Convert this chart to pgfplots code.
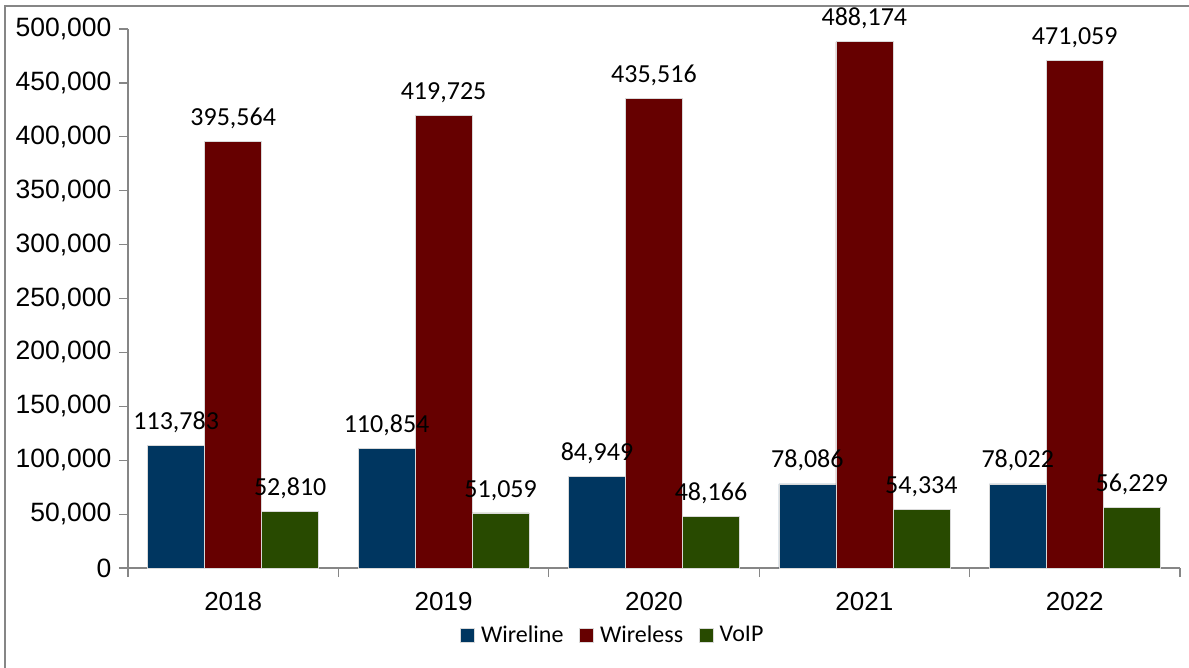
\documentclass[border=0pt]{standalone}
\usepackage{fontspec}
\setmainfont{Liberation Sans}
\newfontfamily\carlito{Carlito}
\usepackage{pgfplots}
\pgfplotsset{compat=1.18}

\definecolor{wireline}{RGB}{0,54,96}
\definecolor{wireless}{RGB}{102,0,0}
\definecolor{voip}{RGB}{40,74,0}
\definecolor{axisgray}{RGB}{134,134,134}

\begin{document}
\begin{tikzpicture}
\path[use as bounding box] (-128pt,-99pt) rectangle (1061pt,568pt);
\begin{axis}[
    name=ax,
    at={(0,0)}, anchor=south west,
    scale only axis,
    width=1052pt, height=539pt,
    ybar=0pt,
    bar width=57pt,
    xmin=-0.5, xmax=4.5,
    ymin=0, ymax=500000,
    scaled y ticks=false,
    axis lines*=left,
    axis line style={axisgray, line width=1.2pt, -},
    xtick={0,1,2,3,4},
    xticklabels={2018,2019,2020,2021,2022},
    major x tick style={draw=none},
    minor xtick={-0.5,0.5,1.5,2.5,3.5,4.5},
    minor x tick style={axisgray, line width=1.2pt},
    minor tick length=9pt,
    ytick={0,50000,...,500000},
    major y tick style={axisgray, line width=1.2pt},
    major tick length=9pt,
    tick align=outside,
    xticklabel style={font=\fontsize{26}{30}\selectfont, yshift=-12pt},
    yticklabel style={font=\fontsize{26.5}{30}\selectfont, xshift=-4pt},
    /pgf/number format/assume math mode=true,
    /pgf/number format/.cd, fixed, 1000 sep={,}, /pgfplots/.cd,
    nodes near coords,
    every node near coord/.append style={font=\carlito\fontsize{26}{30}\selectfont, yshift=9pt, black},
    legend style={at={(0.461,-0.124)}, anchor=center, draw=none, legend columns=3,
        font=\carlito\fontsize{24}{28}\selectfont,
        /tikz/every odd column/.append style={column sep=4pt},
        /tikz/every even column/.append style={column sep=14pt}},
    legend image code/.code={\fill[#1] (0pt,-7pt) rectangle (14pt,7pt);},
    clip=false,
]
\addplot[fill=wireline, draw=white!85!black, line width=0.6pt] coordinates {(0,113783) (1,110854) (2,84949) (3,78086) (4,78022)};
\addplot[fill=wireless, draw=white!85!black, line width=0.6pt] coordinates {(0,395564) (1,419725) (2,435516) (3,488174) (4,471059)};
\addplot[fill=voip, draw=white!85!black, line width=0.6pt] coordinates {(0,52810) (1,51059) (2,48166) (3,54334) (4,56229)};
\legend{Wireline,Wireless,VoIP}
\end{axis}
\draw[axisgray, line width=1.2pt] (-123pt,-200pt) -- (-123pt,562pt) -- (1200pt,562pt);
\end{tikzpicture}
\end{document}
